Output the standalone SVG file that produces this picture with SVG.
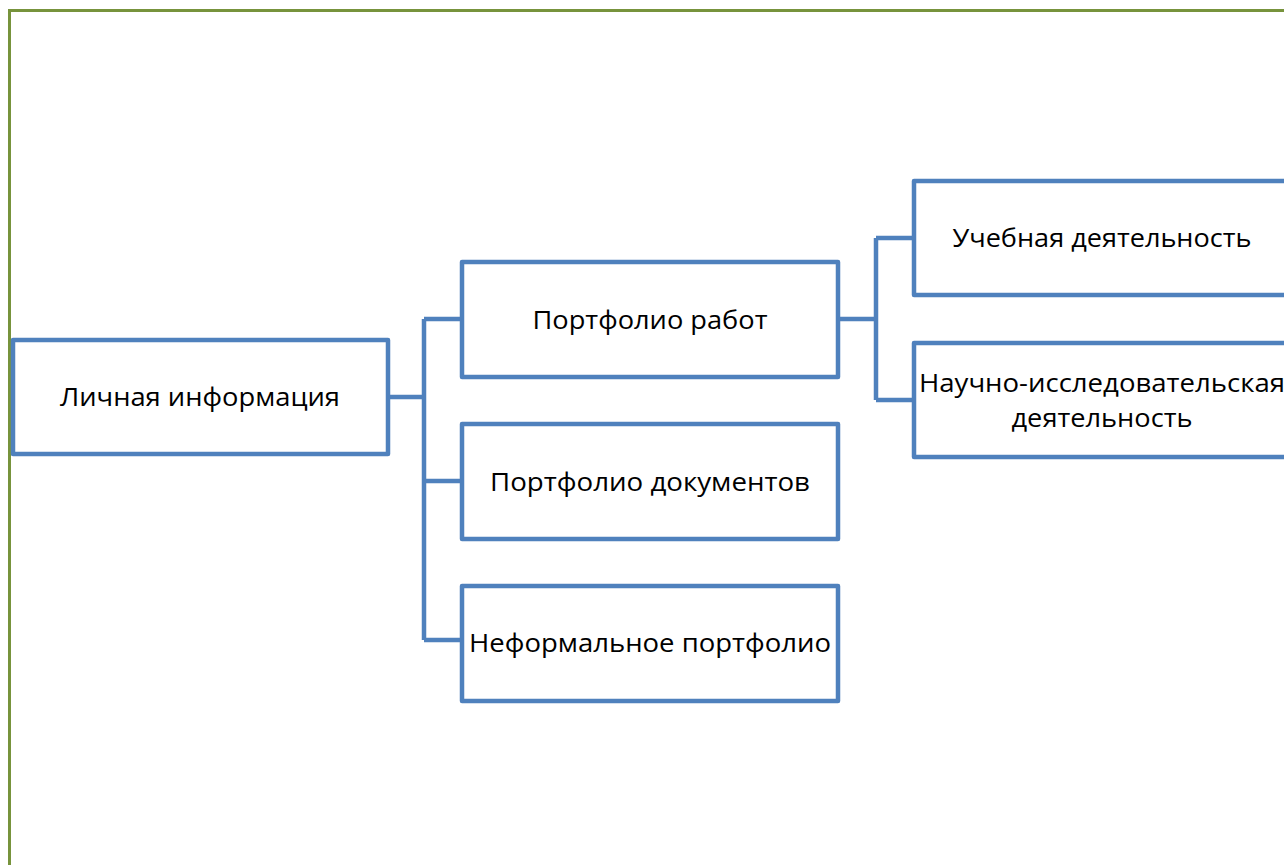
<svg xmlns="http://www.w3.org/2000/svg" width="1284" height="865" viewBox="0 0 1284 865">
<style>
.box{fill:#fff;stroke:#4F81BD;stroke-width:4.5;stroke-linejoin:round}
.con{fill:none;stroke:#4F81BD;stroke-width:4.5;stroke-linejoin:round}
text{font-family:"Open Sans","Noto Sans","Liberation Sans",sans-serif;font-size:26px;fill:#000;text-anchor:middle}
</style>
<rect width="1284" height="865" fill="#fff"/>
<rect x="9.5" y="10.5" width="1320" height="900" fill="none" stroke="#77933C" stroke-width="3"/>
<g id="connectors">
<path class="con" d="M389 397 H424 M424 319 V640 M424 319 H462 M424 481 H462 M424 640 H462"/>
<path class="con" d="M838 319 H876 M876 238 V400 M876 238 H914 M876 400 H914"/>
</g>
<g id="n-personal">
<rect class="box" x="13" y="340" width="375" height="114"/>
<text x="200" y="406" textLength="280" lengthAdjust="spacingAndGlyphs">Личная информация</text>
</g>
<g id="n-works">
<rect class="box" x="462" y="262" width="376" height="115"/>
<text x="650" y="329" textLength="235" lengthAdjust="spacingAndGlyphs">Портфолио работ</text>
</g>
<g id="n-docs">
<rect class="box" x="462" y="424" width="376" height="115"/>
<text x="650" y="491" textLength="320" lengthAdjust="spacingAndGlyphs">Портфолио документов</text>
</g>
<g id="n-informal">
<rect class="box" x="462" y="586" width="376" height="115"/>
<text x="650" y="652" textLength="362" lengthAdjust="spacingAndGlyphs">Неформальное портфолио</text>
</g>
<g id="n-study">
<rect class="box" x="914" y="181" width="400" height="114"/>
<text x="1102" y="247" textLength="299" lengthAdjust="spacingAndGlyphs">Учебная деятельность</text>
</g>
<g id="n-research">
<rect class="box" x="914" y="343" width="400" height="114"/>
<text x="1102" y="392" textLength="366" lengthAdjust="spacingAndGlyphs">Научно-исследовательская</text>
<text x="1102" y="427" textLength="181" lengthAdjust="spacingAndGlyphs">деятельность</text>
</g>
</svg>
